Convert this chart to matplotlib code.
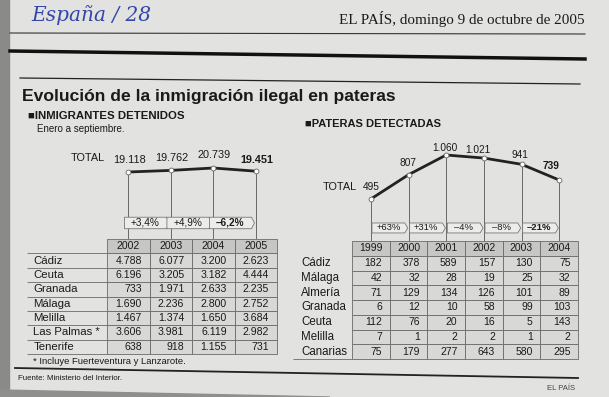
import matplotlib
matplotlib.use('Agg')
import matplotlib.pyplot as plt
from matplotlib.patches import Polygon, Rectangle
import matplotlib.transforms as mtransforms

plt.rcParams['font.family'] = ['Liberation Sans', 'DejaVu Sans']

# --- Datos: inmigrantes detenidos (enero a septiembre) ---
anios_det = ['2002', '2003', '2004', '2005']
total_det = [19118, 19762, 20739, 19451]
var_det = ['+3,4%', '+4,9%', '–6,2%']
prov_det = ['Cádiz', 'Ceuta', 'Granada', 'Málaga', 'Melilla', 'Las Palmas *', 'Tenerife']
cadiz_det = [4788, 6077, 3200, 2623]
ceuta_det = [6196, 3205, 3182, 4444]
granada_det = [733, 1971, 2633, 2235]
malaga_det = [1690, 2236, 2800, 2752]
melilla_det = [1467, 1374, 1650, 3684]
palmas_det = [3606, 3981, 6119, 2982]
tenerife_det = [638, 918, 1155, 731]
filas_det = [cadiz_det, ceuta_det, granada_det, malaga_det, melilla_det, palmas_det, tenerife_det]

# --- Datos: pateras detectadas ---
anios_pat = ['1999', '2000', '2001', '2002', '2003', '2004']
total_pat = [495, 807, 1060, 1021, 941, 739]
var_pat = ['+63%', '+31%', '–4%', '–8%', '–21%']
prov_pat = ['Cádiz', 'Málaga', 'Almería', 'Granada', 'Ceuta', 'Melilla', 'Canarias']
cadiz_pat = [182, 378, 589, 157, 130, 75]
malaga_pat = [42, 32, 28, 19, 25, 32]
almeria_pat = [71, 129, 134, 126, 101, 89]
granada_pat = [6, 12, 10, 58, 99, 103]
ceuta_pat = [112, 76, 20, 16, 5, 143]
melilla_pat = [7, 1, 2, 2, 1, 2]
canarias_pat = [75, 179, 277, 643, 580, 295]
filas_pat = [cadiz_pat, malaga_pat, almeria_pat, granada_pat, ceuta_pat, melilla_pat, canarias_pat]

W, H = 609, 397
PAPEL = '#e2e2e0'
TINTA = '#1a1a1a'


def fmt(v):
    # separador de miles con punto
    return f'{v:,}'.replace(',', '.')


fig = plt.figure(figsize=(W / 100, H / 100), dpi=100)
fig.patch.set_facecolor(PAPEL)

# ejes de fondo en píxeles
bg = fig.add_axes([0, 0, 1, 1])
bg.set_xlim(0, W)
bg.set_ylim(H, 0)
bg.axis('off')


def px_axes(x0, y0, x1, y1):
    ax = fig.add_axes([x0 / W, 1 - y1 / H, (x1 - x0) / W, (y1 - y0) / H])
    ax.axis('off')
    return ax


# bordes del escaneo
bg.add_patch(Rectangle((0, 0), 9, H, color='#8a8a88', zorder=0))
bg.add_patch(Polygon([(0, 390), (330, 397), (0, 397)], closed=True, color='#8f8f8d', zorder=0))

# cabecera
bg.text(31, 15, 'España / 28', color='#3546a8', fontsize=14.5, style='italic',
        family='DejaVu Serif', va='center', ha='left')
bg.text(585, 19, 'EL PAÍS, domingo 9 de octubre de 2005', family='Liberation Serif',
        fontsize=10.9, ha='right', va='center', color=TINTA)
bg.plot([10, 585], [33, 34], color='#333333', lw=0.8)
bg.plot([10, 585], [51, 59], color='#111111', lw=2.5)
bg.plot([20, 580], [78, 84], color='#222222', lw=0.9)

bg.text(22, 97, 'Evolución de la inmigración ilegal en pateras', fontsize=12.6,
        fontweight='bold', va='center', ha='left', color=TINTA)

# subtítulos
bg.text(28, 116, '■INMIGRANTES DETENIDOS', fontsize=8.2, fontweight='bold', va='center', color=TINTA)
bg.text(37, 129, 'Enero a septiembre.', fontsize=7, va='center', color=TINTA)
bg.text(305, 124, '■PATERAS DETECTADAS', fontsize=8, fontweight='bold', va='center', color=TINTA)


def linea_total(ax, valores, variaciones, lab_dx, lab_dy, fs_val, caja, txt_fs):
    n = len(valores)
    x = list(range(n))
    ymin = ax.get_ylim()[0]
    ax.vlines(x, ymin, valores, color='#555555', lw=0.6, zorder=1)
    ax.plot(x, valores, color='#222222', lw=2, marker='o', ms=3.5, mfc='white',
            mec='#666666', mew=0.6, zorder=3, solid_capstyle='butt')
    for i, v in enumerate(valores):
        ax.annotate(fmt(v), (i, v), xytext=(lab_dx[i] * 0.72, lab_dy[i] * 0.72),
                    textcoords='offset points', ha='center', va='center', fontsize=fs_val,
                    fontweight='bold' if i == n - 1 else 'normal', color=TINTA)
    # cajas de variación con punta de flecha
    tr = mtransforms.blended_transform_factory(ax.transData, ax.transAxes)
    x0, x1, xt, yc, hh = caja
    for i, t in enumerate(variaciones):
        pts = [(i + x0, yc - hh), (i + x1, yc - hh), (i + xt, yc),
               (i + x1, yc + hh), (i + x0, yc + hh)]
        ax.add_patch(Polygon(pts, closed=True, transform=tr, facecolor='#ececea',
                             edgecolor='#777777', lw=0.6, zorder=4))
        ax.text(i + (x0 + x1) / 2, yc, t, transform=tr, ha='center', va='center',
                fontsize=txt_fs, color=TINTA, zorder=5,
                fontweight='bold' if i == len(variaciones) - 1 else 'normal')


# gráfico izquierdo
axL = px_axes(107, 140, 277, 239)
axL.set_xlim(-0.5, 3.5)
axL.set_ylim(-8030, 32084)
linea_total(axL, total_det, var_det, [1, 1, 1, 1], [12, 12, 13, 11], 7.8,
            (-0.09, 0.9, 0.97, 0.162, 0.058), 7.2)
bg.text(71, 158, 'TOTAL', fontsize=7.8, va='center', ha='left', color=TINTA)

# gráfico derecho
axR = px_axes(352, 135, 578, 241)
axR.set_xlim(-0.5, 5.5)
axR.set_ylim(-44, 1317)
linea_total(axR, total_pat, var_pat, [0, 0, -1, -6, -2, -8], [12, 12, 7, 8, 9, 14], 7.3,
            (0.03, 0.9, 0.98, 0.123, 0.047), 6.8)
bg.text(323, 187, 'TOTAL', fontsize=7.8, va='center', ha='left', color=TINTA)


def tabla(ax, provincias, anios, filas, ancho_lab, pad_lab, pad_num, fs_num, fs_lab, bordes_lab):
    texto = [[''] + anios] + [[p] + [fmt(v) for v in f] for p, f in zip(provincias, filas)]
    n = len(anios)
    anchos = [ancho_lab] + [(1 - ancho_lab) / n] * n
    tb = ax.table(cellText=texto, colWidths=anchos, bbox=[0, 0, 1, 1], cellLoc='right')
    tb.auto_set_font_size(False)
    for (r, c), cell in tb.get_celld().items():
        cell.set_linewidth(0.6)
        cell.set_edgecolor('#6a6a6a')
        txt = cell.get_text()
        txt.set_color(TINTA)
        if c == 0:
            cell.set_facecolor('none')
            cell.visible_edges = bordes_lab[r]
            cell.PAD = pad_lab
            txt.set_ha('left')
            txt.set_fontsize(fs_lab)
        elif r == 0:
            cell.set_facecolor('#c6c6c4')
            txt.set_ha('center')
            txt.set_fontsize(fs_num)
        else:
            cell.set_facecolor('#d8d8d6')
            cell.PAD = pad_num
            txt.set_fontsize(fs_num)
    return tb


axTL = px_axes(27, 239, 277, 354)
tabla(axTL, prov_det, anios_det, filas_det, 80 / 250, 0.08, 0.18, 7.6, 8.2, ['B'] * 8)

axTR = px_axes(293, 241, 578, 359)
tabla(axTR, prov_pat, anios_pat, filas_pat, 59 / 285, 0.14, 0.2, 7.5, 8.3, [''] * 7 + ['B'])

# pie
bg.text(33, 361, '* Incluye Fuerteventura y Lanzarote.', fontsize=6.8, va='center', color=TINTA)
bg.plot([15, 578], [368, 378], color='#222222', lw=1.3)
bg.text(18, 378, 'Fuente: Ministerio del Interior.', fontsize=5.7, va='center', color=TINTA)
bg.text(575, 388, 'EL PAÍS', fontsize=5.5, va='center', ha='right', color='#444444')

fig.savefig('out.png', dpi=100, facecolor=fig.get_facecolor())
